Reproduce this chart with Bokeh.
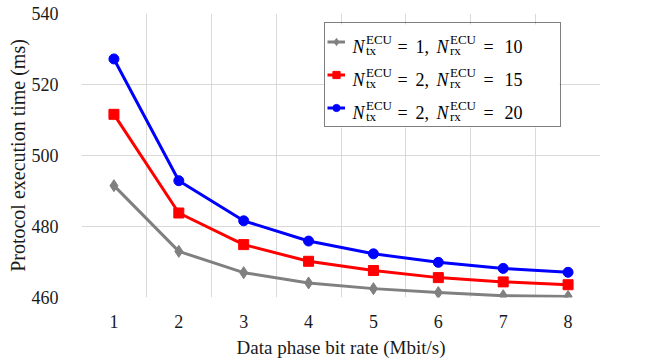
from bokeh.plotting import figure
from bokeh.models import Range1d, FixedTicker, Legend, LegendItem, Label, BoxAnnotation
from bokeh.embed import file_html
from bokeh.resources import INLINE

# ---------------- data ----------------
rates = [1, 2, 3, 4, 5, 6, 7, 8]
gray_ms = [491.5, 473.0, 467.0, 464.1, 462.5, 461.4, 460.5, 460.3]
red_ms = [511.6, 483.8, 474.9, 470.2, 467.6, 465.6, 464.4, 463.6]
blue_ms = [527.2, 492.9, 481.6, 475.9, 472.3, 469.9, 468.2, 467.1]
y_ticks = [460, 480, 500, 520, 540]
n_tx = [1, 2, 2]
n_rx = [10, 15, 20]

series = [gray_ms, red_ms, blue_ms]
colors = ["#808080", "#ff0000", "#0000ff"]
markers = ["diamond", "square", "circle"]
marker_sizes = [12, 10, 10]

FONT = "Liberation Serif"
TXT = "#1a1a1a"

# frame geometry (pixels)
FW, FH = 519, 284
BL, BT, BR, BB = 81, 13, 52, 61
X0, X1 = 0.5, 8.5
Y0, Y1 = 460, 540


def fx(px):
    """frame-relative pixel (from left) -> data x"""
    return X0 + px / FW * (X1 - X0)


def fy(py):
    """frame-relative pixel (from top) -> data y"""
    return Y1 - py / FH * (Y1 - Y0)


p = figure(frame_width=FW, frame_height=FH, output_backend="svg",
           toolbar_location=None,
           x_range=Range1d(X0, X1), y_range=Range1d(Y0, Y1),
           min_border_left=BL, min_border_right=BR,
           min_border_top=BT, min_border_bottom=BB)
p.outline_line_color = None
p.background_fill_color = "white"
p.border_fill_color = "white"

# axes
p.xaxis.ticker = FixedTicker(ticks=rates)
p.yaxis.ticker = FixedTicker(ticks=y_ticks)
for ax in (p.xaxis[0], p.yaxis[0]):
    ax.axis_line_color = None
    ax.major_tick_line_color = None
    ax.minor_tick_line_color = None
    ax.major_label_text_font = FONT
    ax.major_label_text_font_size = "18px"
    ax.major_label_text_color = TXT
    ax.axis_label_text_font = FONT
    ax.axis_label_text_font_style = "normal"
    ax.axis_label_text_color = TXT
p.xaxis.axis_label = "Data phase bit rate (Mbit/s)"
p.yaxis.axis_label = "Protocol execution time (ms)"
p.xaxis.axis_label_text_font_size = "19px"
p.yaxis.axis_label_text_font_size = "20px"
p.xaxis.major_label_standoff = 11
p.xaxis.axis_label_standoff = 6
p.yaxis.major_label_standoff = 17
p.yaxis.axis_label_standoff = 0

# grid: vertical lines between categories
p.xgrid.ticker = FixedTicker(ticks=[r - 0.5 for r in rates] + [rates[-1] + 0.5])
p.ygrid.ticker = FixedTicker(ticks=y_ticks)
p.xgrid.grid_line_color = "#d9d9d9"
p.ygrid.grid_line_color = "#d9d9d9"
p.xgrid.grid_line_width = 1
p.ygrid.grid_line_width = 1

# legend geometry (frame-relative pixels)
LEG_L, LEG_T, LEG_W, LEG_H = 243, 11, 235, 103
ROW_H, PAD = 33, 2

# white background under the legend (covers grid)
p.add_layout(BoxAnnotation(left=fx(LEG_L), right=fx(LEG_L + LEG_W),
                           top=fy(LEG_T), bottom=fy(LEG_T + LEG_H),
                           fill_color="white", fill_alpha=1.0,
                           line_color=None, level="underlay"))

items = []
for ys, c, m, s in zip(series, colors, markers, marker_sizes):
    ln = p.line(rates, ys, line_color=c, line_width=3)
    sc = p.scatter(rates, ys, marker=m, size=s, fill_color=c, line_color=c)
    items.append(LegendItem(label=" ", renderers=[ln, sc]))

legend = Legend(items=items, location=(LEG_L, FH - LEG_T - LEG_H),
                padding=PAD, spacing=0, margin=0, glyph_width=18,
                glyph_height=ROW_H, label_height=ROW_H,
                label_width=LEG_W - 2 * PAD - 18 - 4, label_standoff=4,
                border_line_color="black", border_line_width=1,
                background_fill_alpha=0.0)
p.add_layout(legend, "center")

# legend texts composed of pieces: N_tx^ECU = a, N_rx^ECU = b
row_centers = [LEG_T + PAD + ROW_H / 2 - 3 + ROW_H * i for i in range(3)]
ax_x = fx(LEG_L + 28)
for rc, a, b in zip(row_centers, n_tx, n_rx):
    yy = fy(rc)
    pieces = [
        ("N", 0, 18, "italic", -6.5),
        ("tx", 13.5, 13, "normal", -10.5),
        ("ECU", 13.5, 13, "normal", 1),
        ("=", 45, 18, "normal", -6.5),
        (f"{a},", 63, 18, "normal", -6.5),
        ("N", 84, 18, "italic", -6.5),
        ("rx", 97.5, 13, "normal", -10.5),
        ("ECU", 97.5, 13, "normal", 1),
        ("=", 131, 18, "normal", -6.5),
        (f"{b}", 152, 18, "normal", -6.5),
    ]
    for t, dx, fs, st, dy in pieces:
        p.add_layout(Label(x=ax_x, y=yy, text=t, x_offset=dx, y_offset=dy,
                           text_font=FONT, text_font_size=f"{fs}px",
                           text_font_style=st, text_baseline="alphabetic",
                           text_align="left", text_color="black",
                           level="overlay"))

open("out.html", "w").write(file_html(p, INLINE))
